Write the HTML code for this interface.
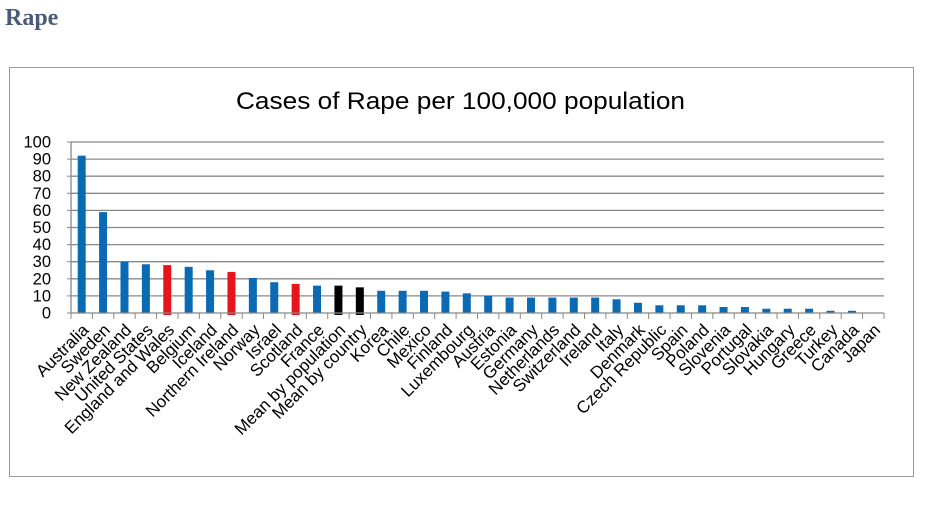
<!DOCTYPE html>
<html><head><meta charset="utf-8"><style>
html,body{margin:0;padding:0;background:#fff;width:936px;height:513px;overflow:hidden}
</style></head><body>
<svg width="936" height="513" xmlns="http://www.w3.org/2000/svg" font-family="Liberation Sans, sans-serif">
<text x="5" y="25" font-family="Liberation Serif, serif" font-weight="bold" font-size="24" fill="#4a5a7a">Rape</text>
<rect x="9.5" y="67.5" width="904" height="409" fill="#fff" stroke="#999" stroke-width="1"/>
<text x="236" y="109" textLength="449" lengthAdjust="spacingAndGlyphs" font-size="24" fill="#000">Cases of Rape per 100,000 population</text>
</svg>
<script>
const svg=document.querySelector('svg');const NS='http://www.w3.org/2000/svg';
function el(t,a,txt){const e=document.createElementNS(NS,t);for(const k in a)e.setAttribute(k,a[k]);if(txt!=null)e.textContent=txt;svg.appendChild(e);return e;}
const x0=71,x1=884,y0=313,sc=1.71;
for(let v=0;v<=100;v+=10){const y=y0-v*sc;
 if(v>0)el('line',{x1:x0,x2:x1,y1:y,y2:y,stroke:'#888','stroke-width':1.3});
 el('line',{x1:x0-4,x2:x0,y1:y,y2:y,stroke:'#888'});
 el('text',{x:51,y:y+5.5,'text-anchor':'end','font-size':16.5,fill:'#000'},String(v));}
el('line',{x1:x0,x2:x0,y1:y0-100*sc,y2:y0,stroke:'#888','stroke-width':1.3});
const d=[["Australia",92,"b"],["Sweden",59,"b"],["New Zealand",30,"b"],["United States",28.5,"b"],["England and Wales",28,"r"],["Belgium",27,"b"],["Iceland",25,"b"],["Northern Ireland",24,"r"],["Norway",20.5,"b"],["Israel",18,"b"],["Scotland",17,"r"],["France",16,"b"],["Mean by population",16,"k"],["Mean by country",15,"k"],["Korea",13,"b"],["Chile",13,"b"],["Mexico",13,"b"],["Finland",12.5,"b"],["Luxembourg",11.5,"b"],["Austria",10,"b"],["Estonia",9,"b"],["Germany",9,"b"],["Netherlands",9,"b"],["Switzerland",9,"b"],["Ireland",9,"b"],["Italy",8,"b"],["Denmark",6,"b"],["Czech Republic",4.5,"b"],["Spain",4.5,"b"],["Poland",4.5,"b"],["Slovenia",3.5,"b"],["Portugal",3.5,"b"],["Slovakia",2.5,"b"],["Hungary",2.5,"b"],["Greece",2.5,"b"],["Turkey",1.3,"b"],["Canada",1.3,"b"],["Japan",0,"b"]];
const n=d.length,w=(x1-x0)/n,col={b:'#0a6ab4',r:'#e8141c',k:'#000'};
d.forEach((r,i)=>{const cx=x0+w*(i+.5);
 if(r[1]>0){const h=r[1]*sc;el('rect',{x:cx-4,y:y0-h,width:8,height:h+(r[2]!='b'?2:0),fill:col[r[2]]});}
 const tx=cx+8,ty=y0+18;
 el('text',{x:tx,y:ty,'text-anchor':'end','font-size':17,fill:'#000',transform:`rotate(-45 ${tx} ${ty})`},r[0]);});
el('line',{x1:x0,x2:x1,y1:y0,y2:y0,stroke:'#888','stroke-width':1.3});
for(let i=0;i<=n;i++){const x=x0+w*i;el('line',{x1:x,x2:x,y1:y0,y2:y0+6,stroke:'#888'});}
</script>
</body></html>
